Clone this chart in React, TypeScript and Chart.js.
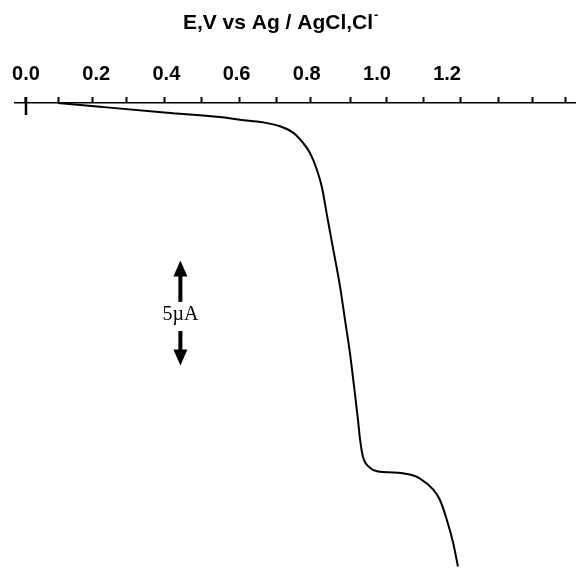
import React, { useEffect, useRef } from 'react';
import { Chart, registerables } from 'chart.js';

Chart.register(...registerables);

// Potential (V vs Ag/AgCl,Cl-) and current (µA, cathodic downward)
const POTENTIAL_V = [
  0.091, 0.211, 0.402, 0.553, 0.610, 0.675, 0.724, 0.761, 0.789, 0.809,
  0.829, 0.843, 0.860, 0.872, 0.895, 0.909, 0.923, 0.937, 0.946, 0.952,
  0.960, 0.980, 1.003, 1.046, 1.094, 1.123, 1.160, 1.179, 1.199, 1.217,
  1.231,
];
const CURRENT_UA = [
  0, -0.18, -0.46, -0.67, -0.80, -0.92, -1.11, -1.41, -1.89, -2.37,
  -3.18, -3.99, -5.56, -6.65, -8.75, -10.32, -11.89, -13.80, -15.08, -16.03,
  -16.84, -17.37, -17.56, -17.60, -17.70, -17.89, -18.41, -18.89, -19.84, -20.94,
  -22.08,
];

// Axis labels and the (unlabelled) tick marks on the potential axis
const E_LABELS = [0.0, 0.2, 0.4, 0.6, 0.8, 1.0, 1.2];
const E_MINOR_TICKS = [
  0.092, 0.189, 0.287, 0.395, 0.501, 0.608, 0.714, 0.812, 0.926, 1.028,
  1.132, 1.239, 1.346, 1.442, 1.536,
];
const E_MIN = -0.0313;
const E_MAX = 1.567;
const I_MIN = -22.2;
const I_MAX = 0;

const TITLE_MAIN = 'E,V vs Ag / AgCl,Cl';
const TITLE_SUP = '-';

// Current scale bar: 5 µA
const SCALE_BAR_E = 0.44;
const SCALE_BAR_TOP = -7.5;
const SCALE_BAR_BOTTOM = -12.5;
const SCALE_BAR_LABEL = '5µA';

const SANS = '"Liberation Sans", Arial, Helvetica, sans-serif';
const SERIF = '"Liberation Serif", "Times New Roman", serif';

const overlayPlugin = {
  id: 'overlay',
  afterDraw(chart: any) {
    const { ctx, chartArea } = chart;
    const x = chart.scales.x;
    const y = chart.scales.y;
    ctx.save();
    ctx.fillStyle = '#000';
    ctx.strokeStyle = '#000';

    // origin marker crossing the axis at E = 0
    const x0 = x.getPixelForValue(0);
    ctx.lineWidth = 2.5;
    ctx.beginPath();
    ctx.moveTo(x0, chartArea.top - 6);
    ctx.lineTo(x0, chartArea.top + 12);
    ctx.stroke();

    // title with superscript minus
    ctx.font = 'bold 21px ' + SANS;
    ctx.textAlign = 'left';
    ctx.textBaseline = 'alphabetic';
    const wMain = ctx.measureText(TITLE_MAIN).width;
    const cx = chart.width / 2 - 7;
    const tx = cx - (wMain + 6) / 2;
    ctx.fillText(TITLE_MAIN, tx, 29);
    ctx.font = 'bold 13px ' + SANS;
    ctx.fillText(TITLE_SUP, tx + wMain + 1, 19);

    // scale bar with arrows
    const xb = x.getPixelForValue(SCALE_BAR_E);
    const yTop = y.getPixelForValue(SCALE_BAR_TOP);
    const yBot = y.getPixelForValue(SCALE_BAR_BOTTOM);
    const mid = (yTop + yBot) / 2;
    const headH = 16;
    const headW = 7;
    ctx.beginPath();
    ctx.moveTo(xb, yTop);
    ctx.lineTo(xb - headW, yTop + headH);
    ctx.lineTo(xb + headW, yTop + headH);
    ctx.closePath();
    ctx.fill();
    ctx.fillRect(xb - 2, yTop + headH - 1, 4, mid - 11 - (yTop + headH - 1));
    ctx.beginPath();
    ctx.moveTo(xb, yBot);
    ctx.lineTo(xb - headW, yBot - headH);
    ctx.lineTo(xb + headW, yBot - headH);
    ctx.closePath();
    ctx.fill();
    ctx.fillRect(xb - 2, mid + 18, 4, yBot - headH + 1 - (mid + 18));

    ctx.font = '20px ' + SERIF;
    ctx.textAlign = 'center';
    ctx.textBaseline = 'middle';
    ctx.fillText(SCALE_BAR_LABEL, xb, mid + 2);

    ctx.restore();
  },
};

export default function App() {
  const canvasRef = useRef<HTMLCanvasElement | null>(null);

  useEffect(() => {
    const canvas = canvasRef.current;
    if (!canvas) return;
    const data = POTENTIAL_V.map((e, i) => ({ x: e, y: CURRENT_UA[i] }));
    const allTicks = [...E_LABELS, ...E_MINOR_TICKS].sort((a, b) => a - b);
    const isLabel = (v: number) => E_LABELS.some((l) => Math.abs(l - v) < 1e-9);

    const chart = new Chart(canvas, {
      type: 'line',
      data: {
        datasets: [
          {
            data,
            borderColor: '#000',
            borderWidth: 2,
            pointRadius: 0,
            fill: false,
            cubicInterpolationMode: 'monotone',
          },
        ],
      },
      options: {
        responsive: false,
        animation: false,
        events: [],
        layout: { padding: { left: 15, right: 0, top: 0, bottom: 0 } },
        plugins: {
          legend: { display: false },
          tooltip: { enabled: false },
          title: { display: false },
        },
        scales: {
          x: {
            type: 'linear',
            position: 'top',
            min: E_MIN,
            max: E_MAX,
            afterBuildTicks: (scale: any) => {
              scale.ticks = allTicks.map((v) => ({ value: v }));
            },
            afterFit: (scale: any) => {
              scale.height = 103;
            },
            ticks: {
              autoSkip: false,
              maxRotation: 0,
              padding: 11,
              color: '#000',
              font: { family: SANS, size: 20, weight: 'bold' },
              callback: (value: any) => (isLabel(Number(value)) ? Number(value).toFixed(1) : ''),
            },
            grid: {
              display: true,
              drawOnChartArea: false,
              drawTicks: true,
              tickLength: 6,
              tickWidth: 2,
              tickColor: (ctx: any) => {
                const v = ctx.tick ? ctx.tick.value : NaN;
                return isLabel(v) && Math.abs(v) > 1e-9 ? 'rgba(0,0,0,0)' : '#000';
              },
            },
            border: { display: true, color: '#000', width: 1.5 },
          },
          y: {
            type: 'linear',
            display: false,
            min: I_MIN,
            max: I_MAX,
          },
        },
      },
      plugins: [overlayPlugin],
    } as any);

    return () => {
      chart.destroy();
    };
  }, []);

  return (
    <div style={{ position: 'absolute', left: 0, top: 0, width: 576, height: 569, background: '#fff' }}>
      <canvas ref={canvasRef} width={576} height={569} style={{ display: 'block' }} />
    </div>
  );
}
